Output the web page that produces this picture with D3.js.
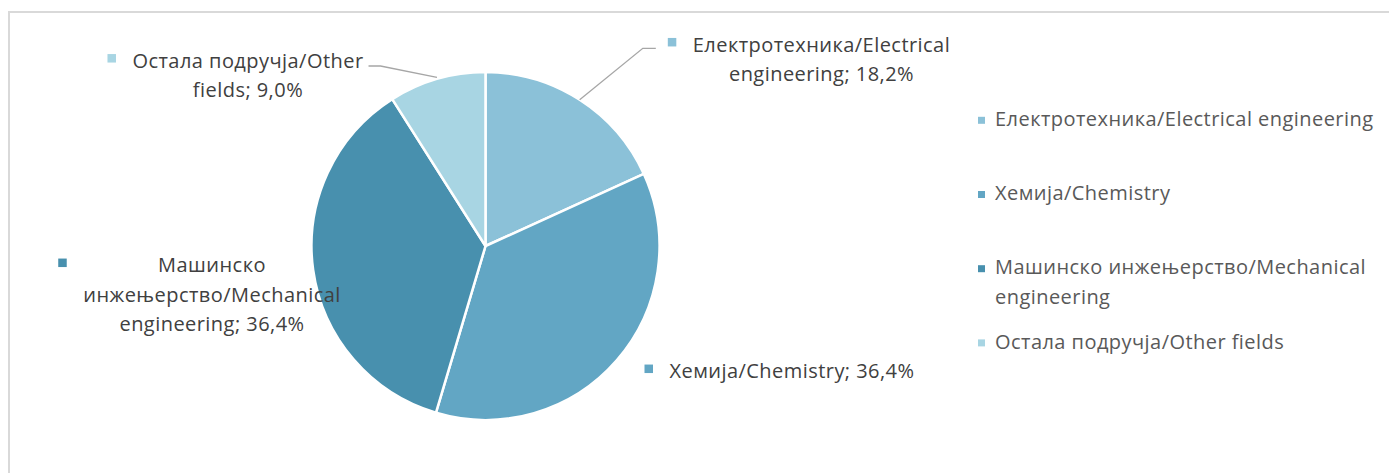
<!DOCTYPE html>
<html>
<head>
<meta charset="utf-8">
<script src="https://cdn.jsdelivr.net/npm/d3@7"></script>
<style>
  html, body { margin: 0; padding: 0; background: #fff; }
  svg { display: block; }
  text { font-family: "Open Sans", "Noto Sans", sans-serif; letter-spacing: 0.45px; }
</style>
</head>
<body>
<svg id="chart" width="1389" height="473"></svg>
<script>
// ---- data ----
const categories = [
  "Електротехника/Electrical engineering",
  "Хемија/Chemistry",
  "Машинско инжењерство/Mechanical engineering",
  "Остала подручја/Other fields"
];
const values = [18.2, 36.4, 36.4, 9.0];
const colors = ["#8BC1D8", "#62A6C4", "#4890AE", "#A8D5E3"];
// data label text, split into lines as in the original
const labelLines = [
  ["Електротехника/Electrical", "engineering; 18,2%"],
  ["Хемија/Chemistry; 36,4%"],
  ["Машинско", "инжењерство/Mechanical", "engineering; 36,4%"],
  ["Остала подручја/Other", "fields; 9,0%"]
];
const legendLines = [
  ["Електротехника/Electrical engineering"],
  ["Хемија/Chemistry"],
  ["Машинско инжењерство/Mechanical", "engineering"],
  ["Остала подручја/Other fields"]
];

// ---- layout ----
const W = 1389, H = 473;
const cx = 485.5, cy = 246, R = 174;
const fontSize = 20;
const lineH = 29.3;
// label block centre x and first baseline y
const labelPos = [
  {x: 821.5, y: 51.7, leader: true},
  {x: 792,   y: 378.3, leader: false},
  {x: 212,   y: 272.3, leader: false},
  {x: 248,   y: 67.8, leader: true}
];

const svg = d3.select("#chart");

// chart border
svg.append("rect")
  .attr("x", 9).attr("y", 12)
  .attr("width", W + 20).attr("height", H + 20)
  .attr("fill", "#fff")
  .attr("stroke", "#d9d9d9").attr("stroke-width", 2);

const pie = d3.pie().sort(null).value(d => d)(values);
const arc = d3.arc().innerRadius(0).outerRadius(R);

const g = svg.append("g").attr("transform", `translate(${cx},${cy})`);
g.selectAll("path.slice").data(pie).join("path")
  .attr("class", "slice")
  .attr("d", arc)
  .attr("fill", (d, i) => colors[i])
  .attr("stroke", "#fff")
  .attr("stroke-width", 2.5)
  .attr("stroke-linejoin", "round");

// data labels
const labelsG = svg.append("g");
pie.forEach((d, i) => {
  const p = labelPos[i];
  const lg = labelsG.append("g");
  const texts = labelLines[i].map((t, k) =>
    lg.append("text")
      .attr("x", p.x).attr("y", p.y + k * lineH)
      .attr("text-anchor", "middle")
      .attr("font-size", fontSize)
      .attr("fill", "#404040")
      .text(t));
  const widths = texts.map(t => t.node().getComputedTextLength());
  const maxW = d3.max(widths);
  const blockLeft = p.x - maxW / 2;
  const firstRight = p.x + widths[0] / 2;
  const mSize = 8.5;
  const mRight = blockLeft - 16.5;
  lg.append("rect")
    .attr("x", mRight - mSize).attr("y", p.y - 9.5 - mSize / 2)
    .attr("width", mSize).attr("height", mSize)
    .attr("fill", colors[i]);

  if (p.leader) {
    const a = (d.startAngle + d.endAngle) / 2;
    const ax = cx + R * Math.sin(a), ay = cy - R * Math.cos(a);
    let pts;
    if (ax > cx) {
      const ex = mRight - mSize - 12, ey = p.y - 3.4;
      pts = [[ax, ay], [ex - 13, ey], [ex, ey]];
    } else {
      const sx = firstRight + 5, sy = p.y - 1.8;
      pts = [[ax, ay - 1.5], [sx + 12, sy], [sx, sy]];
    }
    labelsG.append("path")
      .attr("d", d3.line()(pts))
      .attr("fill", "none")
      .attr("stroke", "#a6a6a6")
      .attr("stroke-width", 1.3);
  }
});

// legend
const legX = 995, legY0 = 126, legStep = 74.2;
const leg = svg.append("g");
categories.forEach((c, i) => {
  const y = legY0 + i * legStep;
  leg.append("rect")
    .attr("x", legX - 17).attr("y", y - 9.2)
    .attr("width", 7).attr("height", 7)
    .attr("fill", colors[i]);
  legendLines[i].forEach((t, k) => {
    leg.append("text")
      .attr("x", legX).attr("y", y + k * lineH)
      .attr("font-size", fontSize)
      .attr("fill", "#595959")
      .text(t);
  });
});
</script>
</body>
</html>
